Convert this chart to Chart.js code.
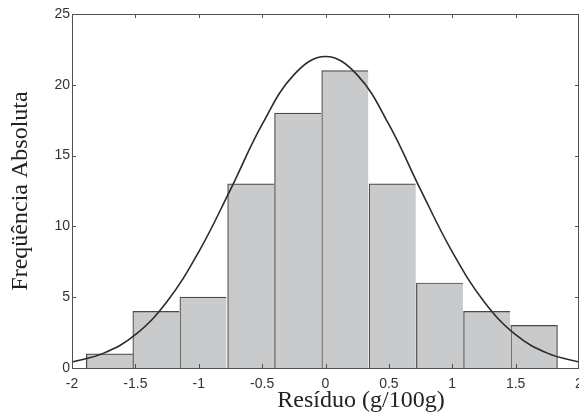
<!DOCTYPE html>
<html>
<head>
<meta charset="utf-8">
<script src="https://cdn.jsdelivr.net/npm/chart.js@4/dist/chart.umd.min.js"></script>
<style>
  html, body { margin: 0; padding: 0; background: #fff; }
  #wrap { width: 579px; height: 412px; }
</style>
</head>
<body>
<div id="wrap"><canvas id="histChart" width="579" height="412"></canvas></div>
<script>
// bin centres and counts
const binCenters = [-1.703, -1.336, -0.965, -0.588, -0.218, 0.154, 0.528, 0.901, 1.273, 1.646];
const counts = [1, 4, 5, 13, 18, 21, 13, 6, 4, 3];

// fitted normal curve, read at every 0.25
const curveX = [-2, -1.75, -1.5, -1.25, -1, -0.75, -0.5, -0.25, 0, 0.25, 0.5, 0.75, 1, 1.25, 1.5, 1.75, 2];
const curveY = [0.42, 1.05, 2.35, 4.7, 8.2, 12.6, 17.2, 20.7, 22, 20.7, 17.2, 12.6, 8.2, 4.7, 2.35, 1.05, 0.42];

const xTicks = [-2, -1.5, -1, -0.5, 0, 0.5, 1, 1.5, 2];
const yTicks = [0, 5, 10, 15, 20, 25];

const xTitle = "Resíduo (g/100g)";
const yTitle = "Freqüência Absoluta";

const axisColor = "#505050";
const tickFont = { family: "Liberation Sans, Arial, sans-serif", size: 14 };
const titleFont = { family: "Liberation Serif, Times New Roman, serif", size: 24 };

// box around plot with inward ticks on all four sides (matlab style)
// x title sits a bit right of centre in the original, so it is drawn here
const frame = {
    id: "frameBox",
    afterDatasetsDraw(chart) {
        const c = chart.ctx;
        const a = chart.chartArea;
        const xs = chart.scales.x;
        const ys = chart.scales.y;
        const len = 4;
        c.save();
        c.strokeStyle = axisColor;
        c.lineWidth = 1;
        c.beginPath();
        c.rect(Math.round(a.left) + 0.5, Math.round(a.top) + 0.5,
            Math.round(a.right - a.left) - 1, Math.round(a.bottom - a.top));
        xTicks.forEach(v => {
            const px = Math.round(xs.getPixelForValue(v)) + 0.5;
            c.moveTo(px, a.bottom); c.lineTo(px, a.bottom - len);
            c.moveTo(px, a.top); c.lineTo(px, a.top + len);
        });
        yTicks.forEach(v => {
            const py = Math.round(ys.getPixelForValue(v)) + 0.5;
            c.moveTo(a.left, py); c.lineTo(a.left + len, py);
            c.moveTo(a.right, py); c.lineTo(a.right - len, py);
        });
        c.stroke();

        c.fillStyle = "#222";
        c.font = titleFont.size + "px " + titleFont.family;
        c.textAlign = "center";
        c.textBaseline = "alphabetic";
        c.fillText(xTitle, xs.getPixelForValue(0.28), 407);
        c.restore();
    }
};

const ctx = document.getElementById("histChart").getContext("2d");

new Chart(ctx, {
    type: "bar",
    data: {
        datasets: [
            {
                type: "line",
                data: curveX.map((x, i) => ({ x: x, y: curveY[i] })),
                borderColor: "#2b2b2b",
                borderWidth: 1.6,
                pointRadius: 0,
                tension: 0.4,
                fill: false,
                clip: false,
                order: 0
            },
            {
                type: "bar",
                data: binCenters.map((x, i) => ({ x: x, y: counts[i] })),
                backgroundColor: "#c9cacc",
                borderColor: "#4a4a4a",
                borderWidth: c => ({
                    left: 1.2, top: 1.2, bottom: 0,
                    right: c.dataIndex === counts.length - 1 ? 1.2 : 0
                }),
                borderSkipped: false,
                inflateAmount: 0.4,
                barPercentage: 1,
                categoryPercentage: 1,
                order: 1
            }
        ]
    },
    options: {
        responsive: false,
        animation: false,
        layout: { padding: { top: 14, right: 0, left: 0, bottom: 0 } },
        plugins: {
            legend: { display: false },
            tooltip: { enabled: false }
        },
        scales: {
            x: {
                type: "linear",
                offset: false,
                min: -2,
                max: 2,
                grid: { display: false, drawTicks: false },
                border: { display: false },
                ticks: {
                    stepSize: 0.5,
                    color: "#333",
                    font: tickFont,
                    padding: 8,
                    maxRotation: 0,
                    autoSkip: false,
                    callback: v => String(v)
                },
                title: { display: false },
                afterFit: s => { s.height = 44; s.paddingLeft = 0; s.paddingRight = 0; }
            },
            y: {
                min: 0,
                max: 25,
                grid: { display: false, drawTicks: false },
                border: { display: false },
                ticks: { stepSize: 5, color: "#333", font: tickFont, padding: 2 },
                title: {
                    display: true,
                    text: yTitle,
                    color: "#222",
                    font: titleFont,
                    padding: { top: 6, bottom: 0 }
                },
                afterFit: s => { s.width = 72; s.paddingTop = 0; s.paddingBottom = 0; }
            }
        }
    },
    plugins: [frame]
});
</script>
</body>
</html>
